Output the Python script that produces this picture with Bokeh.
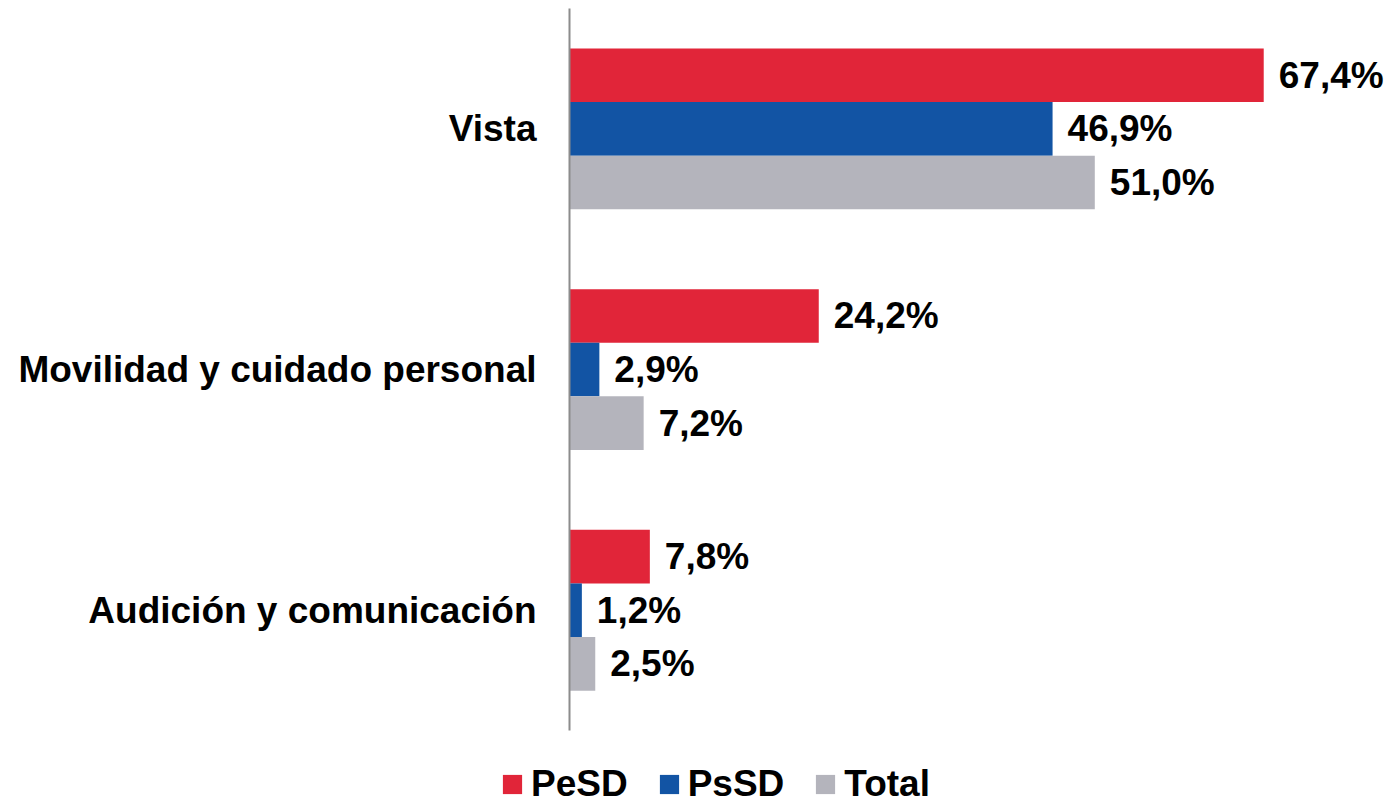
from bokeh.plotting import figure
from bokeh.models import ColumnDataSource, Range1d, Legend, LegendItem
from bokeh.core.properties import value
from bokeh.transform import dodge
from bokeh.embed import file_html
from bokeh.resources import INLINE

categories = ["Audición y comunicación", "Movilidad y cuidado personal", "Vista"]
pesd = [7.8, 24.2, 67.4]
pssd = [1.2, 2.9, 46.9]
total = [2.5, 7.2, 51.0]
series_names = ["PeSD", "PsSD", "Total"]
colors = ["#E12539", "#1254A4", "#B4B4BC"]

def fmt(v):
    return f"{v:.1f}".replace(".", ",") + "%"

pos = list(range(len(categories)))
bh = 0.2227
offsets = [bh, 0.0, -bh]

src = ColumnDataSource(data=dict(
    cat=categories, pos=pos, zero=[0] * len(pos),
    pesd=pesd, pssd=pssd, total=total,
    pesd_l=[fmt(v) for v in pesd], pssd_l=[fmt(v) for v in pssd], total_l=[fmt(v) for v in total],
))

W, H = 1391, 805
px_per_unit_x = 10.3
x0_px = 569
unit_y = 240.7
x_start = -x0_px / px_per_unit_x
x_end = (W - x0_px) / px_per_unit_x
y_end = (len(categories) - 0.5) + 8 / unit_y
y_start = y_end - H / unit_y

p = figure(width=W, height=H, x_range=Range1d(x_start, x_end), y_range=Range1d(y_start, y_end),
           output_backend="svg", toolbar_location=None,
           min_border=0)
p.outline_line_color = None
p.xgrid.visible = False
p.ygrid.visible = False
p.xaxis.visible = False
p.yaxis.visible = False

cols = ["pesd", "pssd", "total"]
renderers = []
for col, off, c in zip(cols, offsets, colors):
    r = p.hbar(y=dodge("pos", off), right=col, left=0, height=bh,
               source=src, fill_color=c, line_color=None)
    renderers.append(r)
    p.text(x=col, y=dodge("pos", off), text=col + "_l", source=src,
           x_offset=15, text_align="left", text_baseline="middle",
           text_font=value("Liberation Sans"), text_font_style="bold",
           text_font_size="37px", text_color="black")

# axis line
p.segment(x0=0, y0=-0.5, x1=0, y1=len(categories) - 0.5, line_color="#8C8C8C", line_width=2)

# category labels
p.text(x="zero", y="pos", text="cat", source=src, x_offset=-33,
       text_align="right", text_baseline="middle",
       text_font=value("Liberation Sans"), text_font_style="bold",
       text_font_size="37px", text_color="black")

legend = Legend(items=[LegendItem(label=n, renderers=[r]) for n, r in zip(series_names, renderers)],
                orientation="horizontal", location=(500, 0),
                glyph_width=24, glyph_height=24, label_standoff=7, spacing=29,
                label_text_font="Liberation Sans", label_text_font_style="bold",
                label_text_font_size="37px", label_text_color="black",
                padding=0, margin=0, border_line_color=None, background_fill_alpha=0)
p.add_layout(legend, "center")

open("out.html", "w").write(file_html(p, INLINE))
